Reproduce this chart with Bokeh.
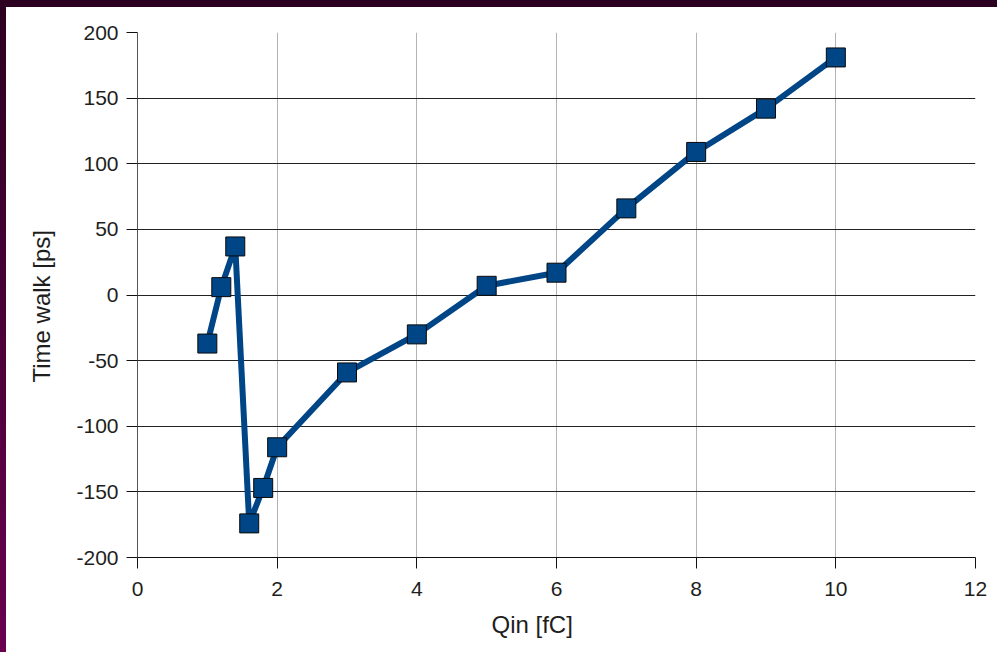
from bokeh.plotting import figure
from bokeh.models import Range1d, FixedTicker, Div, Title
from bokeh.layouts import column
from bokeh.embed import file_html
from bokeh.resources import INLINE

qin = [1, 1.2, 1.4, 1.6, 1.8, 2, 3, 4, 5, 6, 7, 8, 9, 10]
time_walk = [-37, 6, 37, -174, -147, -116, -59, -30, 7, 17, 66, 109, 142, 181]
x_ticks = [0, 2, 4, 6, 8, 10, 12]
y_ticks = [-200, -150, -100, -50, 0, 50, 100, 150, 200]
x_title = "Qin [fC]"
y_title = "Time walk [ps]"

FONT = "Liberation Sans"
BLUE = "#004586"
TXT = "#1e1e1e"

p = figure(width=993, height=651, output_backend="svg", toolbar_location=None,
           x_range=Range1d(0, 12), y_range=Range1d(-200, 200),
           min_border_left=137, min_border_top=32, min_border_right=18, min_border_bottom=94)
p.outline_line_color = None
p.background_fill_color = "white"
p.border_fill_color = "white"

p.xaxis.ticker = FixedTicker(ticks=x_ticks)
p.yaxis.ticker = FixedTicker(ticks=y_ticks)
p.xaxis.major_label_overrides = {t: str(t) for t in x_ticks}
p.yaxis.major_label_overrides = {t: str(t) for t in y_ticks}
for ax in (p.xaxis, p.yaxis):
    ax.major_label_text_font = FONT
    ax.major_label_text_font_size = "21px"
    ax.major_label_text_color = TXT
    ax.minor_tick_line_color = None
    ax.major_tick_in = 0
    ax.major_tick_out = 11
    ax.major_tick_line_color = "#111111"
    ax.axis_line_color = "#111111"
p.yaxis.axis_line_color = "#555555"
p.xaxis.major_label_standoff = 13
p.yaxis.major_label_standoff = 8

xt = Title(text=x_title, align="left", offset=354, vertical_align="middle",
           text_font=FONT, text_font_size="24px", text_font_style="normal",
           text_color=TXT, standoff=23)
p.add_layout(xt, "below")
yt = Title(text=y_title, align="left", offset=175, vertical_align="middle",
           text_font=FONT, text_font_size="24px", text_font_style="normal",
           text_color=TXT, standoff=35)
p.add_layout(yt, "left")

p.xgrid.grid_line_color = "#b3b3b3"
p.ygrid.grid_line_color = "#222222"
p.xgrid.grid_line_width = 1
p.ygrid.grid_line_width = 1

p.line(qin, time_walk, line_color=BLUE, line_width=6, line_join="round")
p.scatter(qin, time_walk, marker="square", size=19, fill_color=BLUE,
          line_color="#0a0a0a", line_width=1)

border = Div(text=(
    '<div style="position:fixed;left:0;top:0;width:100vw;height:7px;'
    'background:#2c0021;"></div>'
    '<div style="position:fixed;left:0;top:0;width:6px;height:100vh;'
    'background:linear-gradient(#2c0021,#6a004f);"></div>'), width=1, height=1, margin=0)

layout = column(p, border, spacing=0)
open("out.html", "w").write(file_html(layout, INLINE))
